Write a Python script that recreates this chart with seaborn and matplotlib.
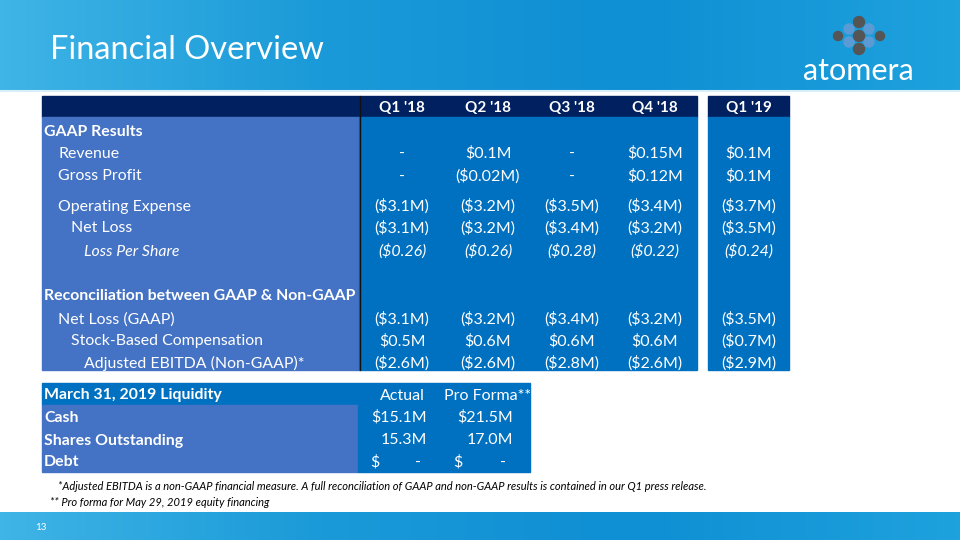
import numpy as np
import matplotlib.pyplot as plt
import seaborn as sns
from matplotlib.patches import Rectangle, Circle

sns.set_theme(style="white")
plt.rcParams['font.family'] = ['Lato', 'DejaVu Sans']

# ---- data ----
quarters = ["Q1 '18", "Q2 '18", "Q3 '18", "Q4 '18", "Q1 '19"]

row_labels = ["GAAP Results", "Revenue", "Gross Profit", "Operating Expense", "Net Loss",
              "Loss Per Share", "Reconciliation between GAAP & Non-GAAP", "Net Loss (GAAP)",
              "Stock-Based Compensation", "Adjusted EBITDA (Non-GAAP)*"]
row_indent = [0, 1, 1, 1, 2, 3, 0, 1, 2, 3]
row_bold = [True, False, False, False, False, False, True, False, False, False]
row_italic = [False, False, False, False, False, True, False, False, False, False]

revenue = ["-", "$0.1M", "-", "$0.15M", "$0.1M"]
gross_profit = ["-", "($0.02M)", "-", "$0.12M", "$0.1M"]
operating_expense = ["($3.1M)", "($3.2M)", "($3.5M)", "($3.4M)", "($3.7M)"]
net_loss = ["($3.1M)", "($3.2M)", "($3.4M)", "($3.2M)", "($3.5M)"]
loss_per_share = ["($0.26)", "($0.26)", "($0.28)", "($0.22)", "($0.24)"]
net_loss_gaap = ["($3.1M)", "($3.2M)", "($3.4M)", "($3.2M)", "($3.5M)"]
stock_comp = ["$0.5M", "$0.6M", "$0.6M", "$0.6M", "($0.7M)"]
adj_ebitda = ["($2.6M)", "($2.6M)", "($2.8M)", "($2.6M)", "($2.9M)"]
row_values = [None, revenue, gross_profit, operating_expense, net_loss, loss_per_share,
              None, net_loss_gaap, stock_comp, adj_ebitda]

liq_title = "March 31, 2019 Liquidity"
liq_cols = ["Actual", "Pro Forma**"]
liq_labels = ["Cash", "Shares Outstanding", "Debt"]
liq_actual = ["$15.1M", "15.3M", None]
liq_proforma = ["$21.5M", "17.0M", None]

footnote1 = "*Adjusted EBITDA is a non-GAAP financial measure. A full reconciliation of GAAP and non-GAAP results is contained in our Q1 press release."
footnote2 = "** Pro forma for May 29, 2019 equity financing"

# ---- layout ----
NAVY = "#002060"
LABEL_BLUE = "#4472C4"
DATA_BLUE = "#0070C0"
row_y = [130, 152, 175, 205, 227, 250, 295, 318, 340, 362]
col_x = [402, 488, 572, 655, 749]
indent_x = [44, 58, 71, 84]
VA = 'center_baseline'

fig = plt.figure(figsize=(9.6, 5.4), dpi=100)
ax = fig.add_axes([0, 0, 1, 1])

# banner backgrounds
grad = np.linspace(0, 1, 256).reshape(1, -1)
cmap = sns.blend_palette(["#3fb4e6", "#1a9ad8", "#0f8fd4", "#1ea2dd"], as_cmap=True)
ax.imshow(grad, extent=[0, 960, 90, 0], cmap=cmap, aspect='auto', zorder=0)
ax.imshow(grad, extent=[0, 960, 540, 512], cmap=cmap, aspect='auto', zorder=0)
ax.plot([0, 960], [90.5, 90.5], color="#d8eef8", lw=1.5, zorder=1)
ax.set_xlim(0, 960)
ax.set_ylim(540, 0)
ax.axis('off')

ax.text(50, 47, "Financial Overview", color="white", fontsize=23.5, va=VA, ha='left')
ax.text(858, 68, "atomera", color="white", fontsize=22, va=VA, ha='center')
# logo dots
for (cx, cy, c, r) in [(838, 36, "#555555", 4.5), (880, 36, "#555555", 4.5),
                       (849, 29, "#5b9bd5", 5), (849, 42, "#5b9bd5", 5),
                       (869, 29, "#5b9bd5", 5), (869, 42, "#5b9bd5", 5),
                       (859, 22, "#555555", 5.5), (859, 36, "#555555", 5.5),
                       (859, 49, "#555555", 5.5)]:
    ax.add_patch(Circle((cx, cy), r, color=c, zorder=3))

# main table
ax.add_patch(Rectangle((42, 96), 655, 21, color=NAVY, zorder=1))
ax.add_patch(Rectangle((708, 96), 81, 21, color=NAVY, zorder=1))
ax.add_patch(Rectangle((42, 117), 317, 253, color=LABEL_BLUE, zorder=1))
ax.add_patch(Rectangle((359, 117), 338, 253, color=DATA_BLUE, zorder=1))
ax.add_patch(Rectangle((708, 117), 81, 253, color=DATA_BLUE, zorder=1))
ax.plot([359.5, 359.5], [96, 370], color="#111111", lw=1, zorder=2)

for x, q in zip(col_x, quarters):
    ax.text(x, 107, q, color="white", fontsize=11, fontweight='bold', ha='center', va=VA)

for y, lab, ind, b, it, vals in zip(row_y, row_labels, row_indent, row_bold, row_italic, row_values):
    ax.text(indent_x[ind], y, lab, color="white", fontsize=11.4,
            fontweight='bold' if b else 'normal', fontstyle='italic' if it else 'normal',
            ha='left', va=VA)
    if vals is None:
        continue
    for x, v in zip(col_x, vals):
        ax.text(x, y, v, color="white", fontsize=11.5, fontstyle='italic' if it else 'normal',
                ha='center', va=VA)

# liquidity table
ax.add_patch(Rectangle((42, 383), 488, 22, color=DATA_BLUE, zorder=1))
ax.add_patch(Rectangle((42, 405), 316, 67, color=LABEL_BLUE, zorder=1))
ax.add_patch(Rectangle((358, 405), 172, 67, color=DATA_BLUE, zorder=1))
ax.text(44, 394, liq_title, color="white", fontsize=11.4, fontweight='bold', ha='left', va=VA)
ax.text(425, 394, liq_cols[0], color="white", fontsize=11.5, ha='right', va=VA)
ax.text(531, 394, liq_cols[1], color="white", fontsize=11.5, ha='right', va=VA)
for y, lab, a, p in zip([416, 439, 461], liq_labels, liq_actual, liq_proforma):
    ax.text(44, y, lab, color="white", fontsize=11.4, fontweight='bold', ha='left', va=VA)
    if a is None:
        ax.text(370, y, "$", color="white", fontsize=11.5, ha='left', va=VA)
        ax.text(418, y, "-", color="white", fontsize=11.5, ha='center', va=VA)
        ax.text(453, y, "$", color="white", fontsize=11.5, ha='left', va=VA)
        ax.text(503, y, "-", color="white", fontsize=11.5, ha='center', va=VA)
    else:
        ax.text(427, y, a, color="white", fontsize=11.5, ha='right', va=VA)
        ax.text(513, y, p, color="white", fontsize=11.5, ha='right', va=VA)

ax.text(58, 486, footnote1, color="black", fontsize=8, fontstyle='italic', ha='left', va=VA)
ax.text(50, 502, footnote2, color="black", fontsize=8, fontstyle='italic', ha='left', va=VA)
ax.text(35, 527, "13", color="white", fontsize=7, ha='left', va=VA)

fig.savefig("out.png", dpi=100)
